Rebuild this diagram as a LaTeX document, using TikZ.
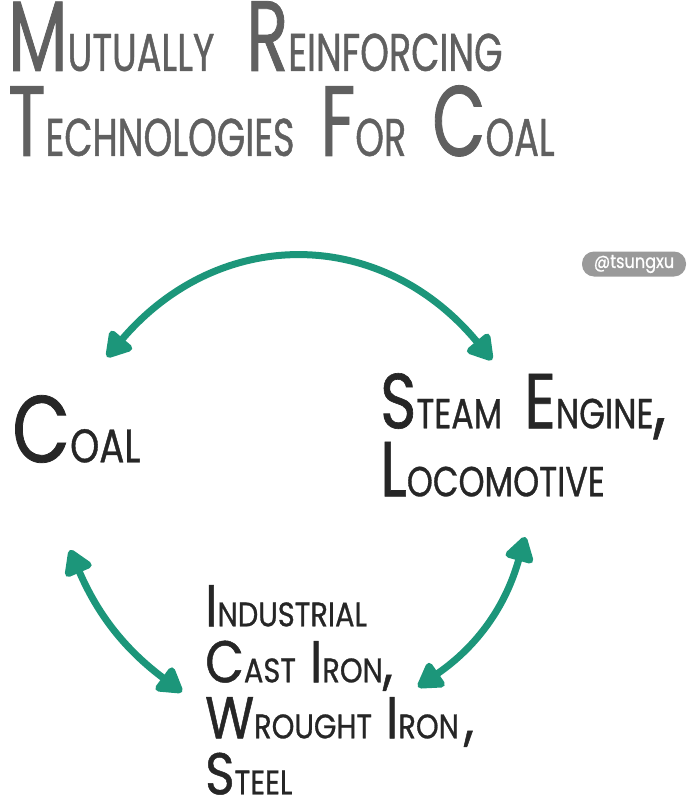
\documentclass[tikz,border=0pt]{standalone}
\usepackage{fontspec}
\newfontfamily\titlehand[FakeStretch=0.69,FakeBold=0.8]{Poppins}
\newfontfamily\inkhand[FakeStretch=0.79,FakeBold=0.8]{Poppins}
\newfontfamily\widehand[FakeStretch=0.85,FakeBold=0.8]{Poppins}
\usetikzlibrary{arrows.meta}
\definecolor{titlegrey}{HTML}{606060}
\definecolor{inkblack}{HTML}{262626}
\definecolor{linkgreen}{HTML}{1C967A}
\definecolor{taggrey}{HTML}{9A9A9A}
% hand-drawn small caps: big first letter, smaller rest
\newcommand\hw[2]{#1{\fontsize{\smallsize}{\smallsize}\selectfont #2}}
\newcommand\handsize[3]{\fontsize{#1}{#3}\selectfont\def\smallsize{#2}}

\begin{document}
\begin{tikzpicture}[x=1pt, y=-1pt, >=Triangle,
  every title/.style={anchor=north west, inner sep=0pt, align=left, text=titlegrey},
  every tech/.style={anchor=north west, inner sep=0pt, align=left, text=inkblack},
  link/.style={linkgreen, line width=7pt, line cap=round,
    {Triangle[length=28pt,width=32pt,round]}-{Triangle[length=28pt,width=32pt,round]}}]

\useasboundingbox (0,0) rectangle (688,808);

% title
\node [every title, font=\titlehand\handsize{100pt}{53pt}{85pt}] (title) at (8,1)
  {\hw{M}{UTUALLY}\hspace{32pt}\hw{R}{EINFORCING}\\
   \hw{T}{ECHNOLOGIES}\hspace{26pt}\hw{F}{OR}\hspace{26pt}\hw{C}{OAL}};

\node [fill=taggrey, rounded corners=12pt, minimum width=104pt, minimum height=25pt,
  inner sep=0pt, text=white, font=\widehand\handsize{19pt}{19pt}{19pt}] (tag) at (634,264) {@tsungxu};

% the three technologies
\node [every tech, font=\inkhand\handsize{95pt}{47pt}{82pt}] (coal) at (12,395) {\hw{C}{OAL}};
\node [every tech, font=\inkhand\handsize{78pt}{42pt}{68pt}] (steam) at (380,373)
  {\hw{S}{TEAM}\hspace{22pt}\hw{E}{NGINE},\\\hw{L}{OCOMOTIVE}};
\node [every tech, font=\widehand\handsize{59pt}{34pt}{56pt}] (iron) at (205,585)
  {\hw{I}{NDUSTRIAL}\\\hw{C}{AST}\hspace{14pt}\hw{I}{RON},\\
   \hw{W}{ROUGHT}\hspace{14pt}\hw{I}{RON}\hspace{5pt},\\\hw{S}{TEEL}};

% arrow ends
\coordinate (coal-top) at (107,357);
\coordinate (steam-top) at (492,360);
\coordinate (coal-low) at (70,550);
\coordinate (iron-left) at (182,692);
\coordinate (steam-low) at (525,537);
\coordinate (iron-right) at (418,687);

\draw [link] (coal-top) to [bend left=50, looseness=1.15] (steam-top);
\draw [link] (coal-low) to [bend right=15] (iron-left);
\draw [link] (steam-low) to [bend left=20] (iron-right);

\end{tikzpicture}
\end{document}
